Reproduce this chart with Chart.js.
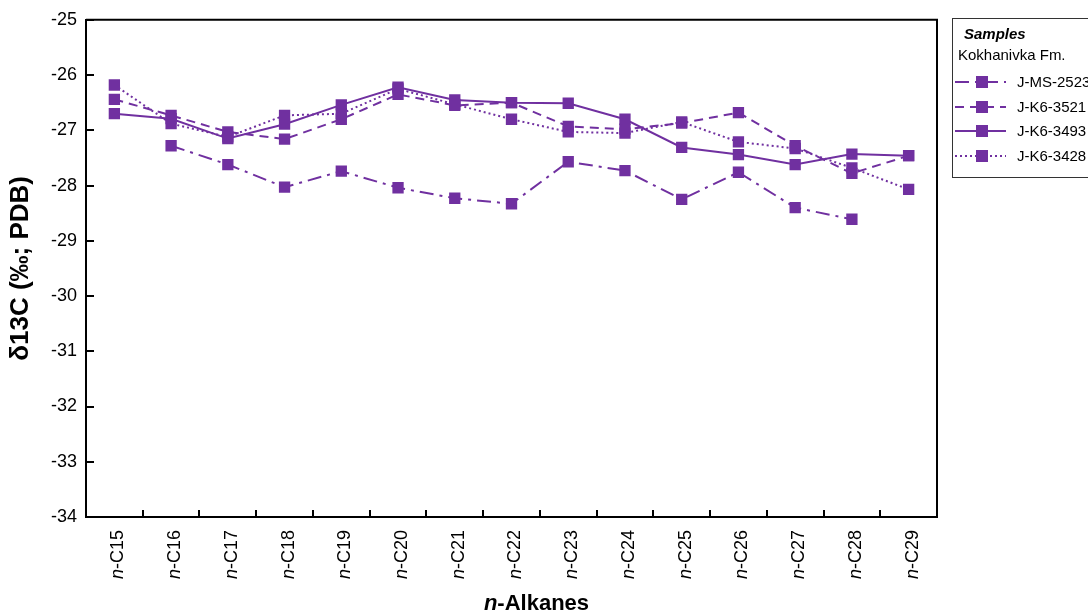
<!DOCTYPE html>
<html>
<head>
<meta charset="utf-8">
<script src="https://cdn.jsdelivr.net/npm/chart.js@4.4.1/dist/chart.umd.min.js"></script>
<style>
    html, body { margin: 0; padding: 0; background: #fff; }
    #wrap { position: relative; width: 1088px; height: 614px; }
</style>
</head>
<body>
<div id="wrap"><canvas id="grafico" width="1088" height="614"></canvas></div>
<script>
// datos
var categorias = ["C15", "C16", "C17", "C18", "C19", "C20", "C21", "C22", "C23", "C24", "C25", "C26", "C27", "C28", "C29"];
var muestras = ["J-MS-2523", "J-K6-3521", "J-K6-3493", "J-K6-3428"];
var valoresMS2523 = [null, -27.28, -27.62, -28.03, -27.74, -28.04, -28.23, -28.33, -27.57, -27.73, -28.25, -27.76, -28.40, -28.61, null];
var valoresK63521 = [-26.44, -26.73, -27.03, -27.16, -26.80, -26.35, -26.55, -26.50, -26.93, -26.98, -26.87, -26.68, -27.28, -27.78, -27.46];
var valoresK63493 = [-26.70, -26.79, -27.15, -26.89, -26.54, -26.22, -26.45, -26.50, -26.51, -26.80, -27.31, -27.44, -27.62, -27.43, -27.46];
var valoresK63428 = [-26.18, -26.88, -27.12, -26.73, -26.70, -26.25, -26.53, -26.80, -27.03, -27.05, -26.85, -27.21, -27.33, -27.68, -28.07];
var ticksY = [-34, -33, -32, -31, -30, -29, -28, -27, -26, -25];

var morado = "#7030A0";
var fuente = "Arial, 'Liberation Sans', sans-serif";
var trazos = [[14, 6, 3, 6], [9, 6], [], [2, 3]];
var valores = [valoresMS2523, valoresK63521, valoresK63493, valoresK63428];

var datasets = muestras.map(function (m, i) {
    return {
        label: m,
        data: valores[i],
        borderColor: morado,
        backgroundColor: morado,
        borderWidth: 2,
        borderDash: trazos[i],
        pointStyle: "rect",
        pointRadius: 8,
        pointHoverRadius: 8,
        pointBorderWidth: 0,
        tension: 0,
        spanGaps: false
    };
});

// marco, marcas hacia dentro, etiquetas del eje x con n en cursiva y leyenda
var extras = {
    id: "extras",
    afterDraw: function (chart) {
        var ctx = chart.ctx;
        var a = chart.chartArea;
        var x = chart.scales.x;
        var y = chart.scales.y;
        ctx.save();
        ctx.strokeStyle = "#000";
        ctx.lineWidth = 2;
        ctx.beginPath();
        ctx.moveTo(a.left, a.top);
        ctx.lineTo(a.right, a.top);
        ctx.lineTo(a.right, a.bottom);
        ctx.stroke();

        // marcas de los ejes (hacia dentro)
        ctx.beginPath();
        ticksY.forEach(function (v) {
            var py = Math.round(y.getPixelForValue(v));
            ctx.moveTo(a.left, py);
            ctx.lineTo(a.left + 8, py);
        });
        var paso = x.getPixelForValue(1) - x.getPixelForValue(0);
        for (var i = 0; i < categorias.length - 1; i++) {
            var px = Math.round(x.getPixelForValue(i) + paso / 2);
            ctx.moveTo(px, a.bottom);
            ctx.lineTo(px, a.bottom - 7);
        }
        ctx.stroke();

        // etiquetas n-Cxx
        ctx.fillStyle = "#000";
        ctx.textBaseline = "middle";
        ctx.textAlign = "left";
        categorias.forEach(function (c, i) {
            var px = x.getPixelForValue(i) + 4;
            ctx.save();
            ctx.translate(px, a.bottom);
            ctx.rotate(-Math.PI / 2);
            ctx.font = "italic 18px " + fuente;
            var w1 = ctx.measureText("n").width;
            ctx.font = "18px " + fuente;
            var w2 = ctx.measureText("-" + c).width;
            var x0 = -(13 + w1 + w2);
            ctx.font = "italic 18px " + fuente;
            ctx.fillText("n", x0, 0);
            ctx.font = "18px " + fuente;
            ctx.fillText("-" + c, x0 + w1, 0);
            ctx.restore();
        });

        // titulo eje x
        ctx.font = "italic bold 22px " + fuente;
        var t1 = ctx.measureText("n").width;
        ctx.font = "bold 22px " + fuente;
        var t2 = ctx.measureText("-Alkanes").width;
        var cx = (a.left + a.right) / 2 + 25;
        var sx = cx - (t1 + t2) / 2;
        ctx.textBaseline = "alphabetic";
        ctx.font = "italic bold 22px " + fuente;
        ctx.fillText("n", sx, 610);
        ctx.font = "bold 22px " + fuente;
        ctx.fillText("-Alkanes", sx + t1, 610);

        // leyenda
        ctx.textBaseline = "middle";
        ctx.strokeStyle = "#333";
        ctx.lineWidth = 1;
        ctx.strokeRect(952.5, 18.5, 150, 159);
        ctx.font = "italic bold 15px " + fuente;
        ctx.fillText("Samples", 964, 35);
        ctx.font = "15px " + fuente;
        ctx.fillText("Kokhanivka Fm.", 958, 56);
        var filas = [82, 107, 131, 156];
        chart.data.datasets.forEach(function (d, i) {
            var fy = filas[i];
            ctx.strokeStyle = d.borderColor;
            ctx.lineWidth = 2;
            ctx.setLineDash(d.borderDash);
            ctx.beginPath();
            ctx.moveTo(955, fy);
            ctx.lineTo(1006, fy);
            ctx.stroke();
            ctx.setLineDash([]);
            ctx.fillStyle = d.backgroundColor;
            ctx.fillRect(976, fy - 6, 12, 12);
            ctx.fillStyle = "#000";
            ctx.font = "15px " + fuente;
            ctx.fillText(d.label, 1017, fy + 1);
        });
        ctx.restore();
    }
};

var ctx1 = document.getElementById("grafico").getContext("2d");
window.miGrafico = new Chart(ctx1, {
    type: "line",
    data: {
        labels: categorias,
        datasets: datasets
    },
    options: {
        responsive: false,
        devicePixelRatio: 1,
        animation: false,
        layout: { padding: { top: 17, right: 151, left: 0, bottom: 0 } },
        plugins: {
            legend: { display: false },
            tooltip: { enabled: false }
        },
        scales: {
            x: {
                type: "category",
                offset: true,
                grid: { display: false, drawTicks: false },
                border: { display: true, color: "#000", width: 2 },
                ticks: { display: false },
                afterFit: function (s) { s.height = 97; }
            },
            y: {
                min: ticksY[0],
                max: ticksY[ticksY.length - 1],
                afterBuildTicks: function (s) {
                    s.ticks = ticksY.map(function (v) { return { value: v }; });
                },
                grid: { display: false, drawTicks: false },
                border: { display: true, color: "#000", width: 2 },
                ticks: {
                    color: "#000",
                    padding: 9,
                    font: { family: fuente, size: 18 }
                },
                title: {
                    display: true,
                    text: "δ13C (‰; PDB)",
                    color: "#000",
                    padding: { top: 5, bottom: 0 },
                    font: { family: fuente, size: 26, weight: "bold" }
                },
                afterFit: function (s) { s.width = 86; }
            }
        }
    },
    plugins: [extras]
});
</script>
</body>
</html>
